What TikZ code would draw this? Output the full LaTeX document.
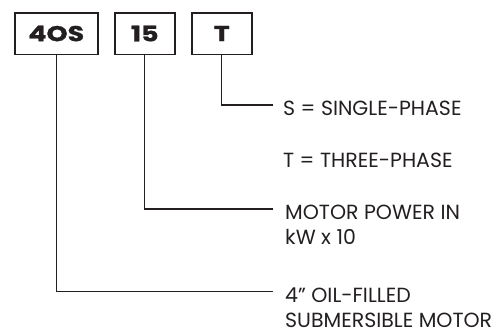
\documentclass[tikz,border=0pt]{standalone}
\usepackage{fontspec}
\setmainfont{Poppins}
\newfontfamily\boxfont[FakeStretch=1.25,FakeBold=1.2]{Poppins}
\definecolor{ink}{HTML}{231F20}
\begin{document}
\begin{tikzpicture}[x=1pt,y=-1pt,
  codebox/.style={draw=ink,line width=1.5pt,inner sep=0pt,anchor=north west,
     text=ink,font=\boxfont\fontsize{21.5}{21.5}\selectfont\bfseries},
  lbl/.style={anchor=base west,inner sep=0pt,text=ink,text depth=0pt,
     font=\fontsize{20.5}{24.5}\selectfont,align=left},
  conn/.style={draw=ink,line width=1.2pt}]
\useasboundingbox (0,0) rectangle (501,330);
\node[codebox,minimum width=83pt,minimum height=41.5pt] (b1) at (14,12) {4OS};
\node[codebox,minimum width=60pt,minimum height=41.5pt] (b2) at (114,12) {15};
\node[codebox,minimum width=60pt,minimum height=41.5pt] (b3) at (191,12) {T};
\node[lbl] (t1) at (283,115.5) {S = SINGLE-PHASE};
\node[lbl] (t2) at (283,167.5) {T = THREE-PHASE};
\node[lbl] (t3) at (285,244) {MOTOR POWER IN\\kW x 10};
\node[lbl] (t4) at (285,327) {4” OIL-FILLED\\SUBMERSIBLE MOTOR};
\coordinate (e1) at (273,291.5);
\coordinate (e2) at (273,209);
\coordinate (e3) at (273,105);
\draw[conn] (b1.south) |- (e1);
\draw[conn] (b2.south) |- (e2);
\draw[conn] (b3.south) |- (e3);
\end{tikzpicture}
\end{document}
